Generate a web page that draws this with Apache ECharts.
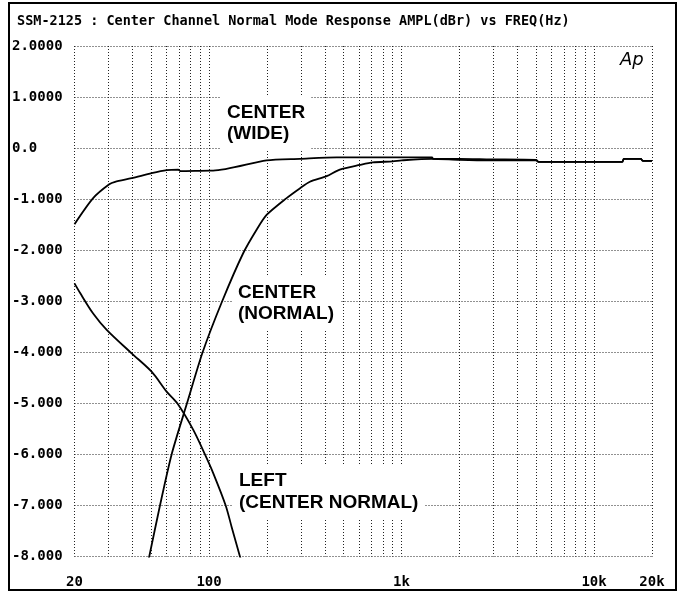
<!DOCTYPE html>
<html>
<head>
<meta charset="utf-8">
<script src="https://cdn.jsdelivr.net/npm/echarts@6/dist/echarts.min.js"></script>
<style>
  html, body { margin: 0; padding: 0; background: #fff; }
  #chart { width: 681px; height: 592px; }
</style>
</head>
<body>
<div id="chart"></div>
<script>
// ---- data (frequency Hz, level dBr) ----
const centerWide = [
  [20, -1.49], [25, -0.98], [30.3, -0.71], [32.5, -0.66], [39.6, -0.59],
  [50.3, -0.49], [60.2, -0.43], [69.2, -0.42], [71, -0.45], [101, -0.44],
  [105, -0.44], [199, -0.24], [296, -0.21], [460, -0.18], [1000, -0.18],
  [1440, -0.18], [1460, -0.21], [2000, -0.21], [2900, -0.22], [5000, -0.23],
  [5150, -0.27], [14000, -0.27], [14300, -0.21], [17500, -0.21], [17900, -0.25],
  [20000, -0.25]
];
const centerNormal = [
  [43, -9], [48.9, -8], [55.6, -7], [63.9, -6], [76.8, -5], [92.6, -4],
  [117, -3], [150.4, -2.06], [176.6, -1.6], [199, -1.31], [252.8, -0.98],
  [296, -0.79], [334, -0.66], [408, -0.55], [478, -0.42], [607, -0.33],
  [709, -0.28], [901, -0.26], [1000, -0.24], [1440, -0.21], [2000, -0.23],
  [2900, -0.24], [5000, -0.24], [5150, -0.27], [14000, -0.27], [14300, -0.21],
  [17500, -0.21], [17900, -0.25], [20000, -0.25]
];
const leftCenterNormal = [
  [20, -2.65], [21.4, -2.84], [25, -3.24], [29.4, -3.56], [39.6, -4.02],
  [50.3, -4.38], [60.2, -4.77], [68.4, -5.0], [82.8, -5.52], [95.2, -6.0],
  [105.2, -6.37], [122, -7.0], [131, -7.42], [144.7, -8.0], [160, -8.6]
];

// ---- axes ----
const freqGrid = [20, 30, 40, 50, 60, 70, 80, 90,
  100, 200, 300, 400, 500, 600, 700, 800, 900,
  1000, 2000, 3000, 4000, 5000, 6000, 7000, 8000, 9000,
  10000, 20000];
const freqLabelValues = [20, 100, 1000, 10000, 20000];
const freqLabelTexts = ['20', '100', '1k', '10k', '20k'];
const levelTickValues = [-8, -7, -6, -5, -4, -3, -2, -1, 0, 1, 2];
const levelTickTexts = ['-8.000', '-7.000', '-6.000', '-5.000', '-4.000', '-3.000',
  '-2.000', '-1.000', '0.0', '1.0000', '2.0000'];

const titleText = 'SSM-2125 : Center Channel Normal Mode Response AMPL(dBr) vs FREQ(Hz)';

const MONO = "'DejaVu Sans Mono', 'Liberation Mono', monospace";
const SANS = "'Liberation Sans', Arial, sans-serif";
const gridLine = { color: '#222', width: 1, type: [1, 2] };

const chart = echarts.init(document.getElementById('chart'), null, { renderer: 'canvas' });

const curveStyle = { color: '#000', width: 1.8 };

chart.setOption({
  backgroundColor: '#fff',
  animation: false,
  title: {
    text: titleText,
    left: 12, top: 9,
    textStyle: { fontFamily: MONO, fontWeight: 'bold', fontSize: 13.5, color: '#000' }
  },
  grid: { left: 74.5, right: 29, top: 46, bottom: 35.5, containLabel: false },
  xAxis: {
    type: 'log', logBase: 10, min: 20, max: 20000,
    axisLine: { show: false },
    axisTick: { show: false, customValues: freqGrid },
    splitLine: { show: true, lineStyle: gridLine },
    axisLabel: {
      customValues: freqLabelValues,
      margin: 19,
      fontFamily: MONO, fontWeight: 'bold', fontSize: 14, color: '#000',
      formatter: function (v) {
        const i = freqLabelValues.findIndex(f => Math.abs(f - v) < 1e-6 * f);
        return i >= 0 ? freqLabelTexts[i] : '';
      }
    }
  },
  yAxis: {
    type: 'value', min: -8, max: 2, interval: 1,
    axisLine: { show: false },
    axisTick: { show: false },
    splitLine: { show: true, lineStyle: gridLine },
    axisLabel: {
      align: 'left', margin: 62.5,
      fontFamily: MONO, fontWeight: 'bold', fontSize: 14, color: '#000',
      formatter: function (v) {
        const i = levelTickValues.indexOf(Math.round(v));
        return i >= 0 ? levelTickTexts[i] : '';
      }
    }
  },
  series: [
    { name: 'CENTER (WIDE)', type: 'line', data: centerWide, showSymbol: false, smooth: 0.25, lineStyle: curveStyle, z: 5, clip: true },
    { name: 'CENTER (NORMAL)', type: 'line', data: centerNormal, showSymbol: false, smooth: 0.25, lineStyle: curveStyle, z: 5, clip: true },
    { name: 'LEFT (CENTER NORMAL)', type: 'line', data: leftCenterNormal, showSymbol: false, smooth: 0.3, lineStyle: curveStyle, z: 5, clip: true }
  ],
  graphic: [
    { type: 'rect', z: 10, silent: true,
      shape: { x: 9, y: 3, width: 667, height: 587 },
      style: { fill: null, stroke: '#000', lineWidth: 2 } },
    { type: 'text', z: 1, left: 221, top: 97,
      style: { text: 'CENTER\n(WIDE)', font: 'bold 19px ' + SANS, fill: '#000', lineHeight: 21,
               backgroundColor: '#fff', padding: [5, 6, 5, 6] } },
    { type: 'text', z: 1, left: 232, top: 277,
      style: { text: 'CENTER\n(NORMAL)', font: 'bold 19px ' + SANS, fill: '#000', lineHeight: 21,
               backgroundColor: '#fff', padding: [5, 6, 5, 6] } },
    { type: 'text', z: 1, left: 233, top: 465,
      style: { text: 'LEFT\n(CENTER NORMAL)', font: 'bold 19px ' + SANS, fill: '#000', lineHeight: 22,
               backgroundColor: '#fff', padding: [5, 6, 5, 6] } },
    { type: 'text', z: 6, left: 620, top: 51,
      style: { text: 'Ap', font: 'italic 18px ' + "'DejaVu Sans', sans-serif", fill: '#000' } }
  ]
});
</script>
</body>
</html>
